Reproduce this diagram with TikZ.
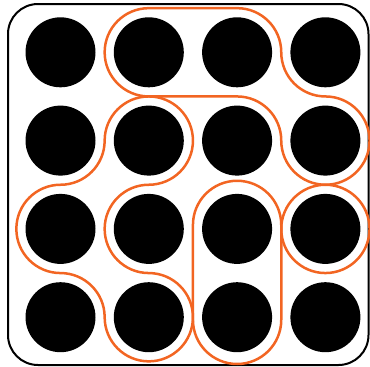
\documentclass[tikz,border=0pt]{standalone}
\definecolor{loopcol}{RGB}{242,101,34}
\begin{document}
\begin{tikzpicture}[x=1pt,y=-1pt,
    blob/.style={draw=loopcol,line width=2.5pt,rounded corners=44.15pt}]
    \useasboundingbox (0,0) rectangle (370,367);
    \draw[line width=2pt,rounded corners=30pt] (8,4) rectangle (368.5,365);
    \begin{scope}[shift={(16.35,8.15)},x=88.3pt,y=-88.3pt]
    \foreach \x in {0,...,3} \foreach \y in {0,...,3}
    {
        \path[fill=black] (\x+0.5,\y+0.5) circle[radius=35pt];
    }
    \draw[blob] (1,0) -- (3,0) -- (3,1) -- (4,1) -- (4,2) -- (3,2) -- (3,1) -- (1,1) -- cycle;
    \draw[blob] (1,1) -- (2,1) -- (2,2) -- (1,2) -- (1,3) -- (2,3) -- (2,4) -- (1,4)
        -- (1,3) -- (0,3) -- (0,2) -- (1,2) -- cycle;
    \draw[blob] (2,1.955) -- (3,1.955) -- (3,4.03) -- (2,4.03) -- cycle;
    \draw[blob] (3,2) -- (4,2) -- (4,3) -- (3,3) -- cycle;
    \end{scope}
\end{tikzpicture}
\end{document}
